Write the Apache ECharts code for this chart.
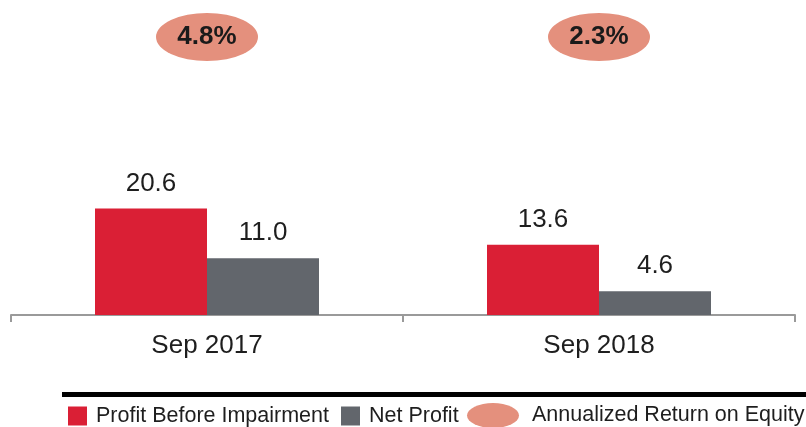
<!DOCTYPE html>
<html>
<head>
<meta charset="utf-8">
<script src="https://cdn.jsdelivr.net/npm/echarts@6/dist/echarts.min.js"></script>
<style>
  html, body { margin: 0; padding: 0; background: #fff; }
  #chart { width: 806px; height: 427px; }
</style>
</head>
<body>
<div id="chart"></div>
<script>
var categories = ["Sep 2017", "Sep 2018"];
var profitBeforeImpairment = [20.6, 13.6];
var netProfit = [11.0, 4.6];
var roe = [4.8, 2.3];

var FONT = "Liberation Sans, Arial, sans-serif";
var ellipseSymbol = "path://M0,24 A51,24 0 1,1 102,24 A51,24 0 1,1 0,24 Z";
var ellipseIcon = "path://M0,12.5 A26,12.5 0 1,1 52,12.5 A26,12.5 0 1,1 0,12.5 Z";

var myChart = echarts.init(document.getElementById("chart"));
var option = {
  animation: false,
  textStyle: { fontFamily: FONT },
  grid: [
    { left: 11, right: 11, top: 160, bottom: 112 },
    { left: 11, right: 11, top: 13, height: 48 },
  ],
  xAxis: [
    {
      type: "category",
      gridIndex: 0,
      data: categories,
      axisLine: { lineStyle: { color: "#9a9a9a", width: 2 } },
      axisTick: { show: true, alignWithLabel: false, length: 7, lineStyle: { color: "#9a9a9a", width: 2 } },
      axisLabel: { color: "#1e1e1e", fontSize: 26, margin: 18, fontFamily: FONT },
    },
    { type: "category", gridIndex: 1, data: categories, show: false },
  ],
  yAxis: [
    { type: "value", gridIndex: 0, min: 0, max: 30, show: false },
    { type: "category", gridIndex: 1, data: ["ROE"], show: false },
  ],
  legend: [
    {
      left: 68,
      top: 405,
      padding: 0,
      itemWidth: 19,
      itemHeight: 19,
      itemGap: 12,
      icon: "rect",
      selectedMode: false,
      data: ["Profit Before Impairment", "Net Profit"],
      textStyle: { fontSize: 21.5, color: "#1e1e1e", fontFamily: FONT, padding: [0, 0, 0, 4] },
    },
    {
      left: 467,
      top: 403,
      padding: 0,
      itemWidth: 52,
      itemHeight: 25,
      selectedMode: false,
      data: [{ name: "Annualized Return on Equity", icon: ellipseIcon }],
      textStyle: { fontSize: 21.5, color: "#1e1e1e", fontFamily: FONT, padding: [0, 0, 0, 8] },
    },
  ],
  graphic: [
    {
      type: "line",
      shape: { x1: 62, y1: 394.5, x2: 806, y2: 394.5 },
      style: { stroke: "#000", lineWidth: 5 },
    },
  ],
  series: [
    {
      name: "Profit Before Impairment",
      type: "bar",
      barWidth: 112,
      barGap: "0%",
      data: profitBeforeImpairment,
      itemStyle: { color: "#DA1F35" },
      label: {
        show: true,
        position: "top",
        distance: 12,
        fontSize: 26,
        color: "#1e1e1e",
        fontFamily: FONT,
        formatter: function (p) { return p.value.toFixed(1); },
      },
    },
    {
      name: "Net Profit",
      type: "bar",
      barWidth: 112,
      barGap: "0%",
      data: netProfit,
      itemStyle: { color: "#62666C" },
      label: {
        show: true,
        position: "top",
        distance: 12,
        fontSize: 26,
        color: "#1e1e1e",
        fontFamily: FONT,
        formatter: function (p) { return p.value.toFixed(1); },
      },
    },
    {
      name: "Annualized Return on Equity",
      type: "scatter",
      xAxisIndex: 1,
      yAxisIndex: 1,
      symbol: ellipseSymbol,
      symbolSize: [102, 48],
      itemStyle: { color: "#E4907D", opacity: 1 },
      data: roe.map(function (v, i) { return [categories[i], "ROE", v]; }),
      label: {
        show: true,
        position: "inside",
        fontSize: 26,
        fontWeight: "bold",
        color: "#1a1a1a",
        fontFamily: FONT,
        formatter: function (p) { return p.value[2].toFixed(1) + "%"; },
      },
    },
  ],
};
option && myChart.setOption(option);
</script>
</body>
</html>
